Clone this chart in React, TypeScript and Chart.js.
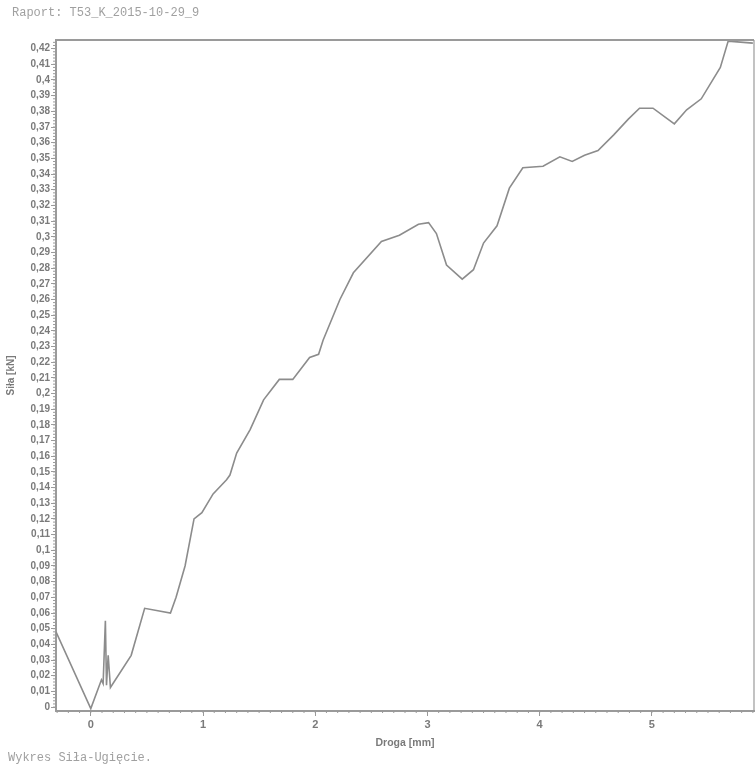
import React, { useEffect, useRef } from "react";
import { Chart, registerables } from "chart.js";

Chart.register(...registerables);

const REPORT_TITLE = "Raport: T53_K_2015-10-29_9";
const FOOTER_TEXT = "Wykres Siła-Ugięcie.";
const X_TITLE = "Droga [mm]";
const Y_TITLE = "Siła [kN]";

const DISPLACEMENT = [
  -0.31, 0.0, 0.095, 0.11, 0.13, 0.14, 0.155, 0.175, 0.36, 0.48, 0.71, 0.76, 0.84, 0.92, 0.99,
  1.09, 1.21, 1.24, 1.3, 1.42, 1.54, 1.68, 1.8, 1.95, 2.03, 2.07, 2.22, 2.34, 2.59, 2.75, 2.92,
  3.01, 3.08, 3.17, 3.31, 3.41, 3.5, 3.62, 3.73, 3.85, 4.03, 4.18, 4.29, 4.4, 4.52, 4.66, 4.79,
  4.89, 5.01, 5.2, 5.31, 5.44, 5.61, 5.68, 5.9,
];
const FORCE = [
  0.048, -0.001, 0.0174, 0.015, 0.055, 0.014, 0.033, 0.0125, 0.033, 0.063, 0.06, 0.07, 0.09, 0.12,
  0.124, 0.136, 0.145, 0.148, 0.162, 0.177, 0.196, 0.209, 0.209, 0.223, 0.225, 0.234, 0.26, 0.277,
  0.297, 0.301, 0.308, 0.309, 0.302, 0.282, 0.273, 0.279, 0.296, 0.307, 0.331, 0.344, 0.345, 0.351,
  0.348, 0.352, 0.355, 0.365, 0.375, 0.382, 0.382, 0.372, 0.381, 0.388, 0.408, 0.4248, 0.4235,
];

const X_TICKS = [0, 1, 2, 3, 4, 5];
const Y_TICKS = [
  0, 0.01, 0.02, 0.03, 0.04, 0.05, 0.06, 0.07, 0.08, 0.09, 0.1, 0.11, 0.12, 0.13, 0.14, 0.15, 0.16,
  0.17, 0.18, 0.19, 0.2, 0.21, 0.22, 0.23, 0.24, 0.25, 0.26, 0.27, 0.28, 0.29, 0.3, 0.31, 0.32,
  0.33, 0.34, 0.35, 0.36, 0.37, 0.38, 0.39, 0.4, 0.41, 0.42,
];

const GRAY = "#8c8c8c";
const AXIS_GRAY = "#9a9a9a";
const TEXT_GRAY = "#7a7a7a";

const frameAndMinorTicks = {
  id: "frameAndMinorTicks",
  afterDraw(chart: any) {
    const { ctx, chartArea } = chart;
    const xs = chart.scales.x;
    const ys = chart.scales.y;
    ctx.save();
    ctx.strokeStyle = AXIS_GRAY;
    ctx.lineWidth = 2;
    ctx.beginPath();
    ctx.moveTo(chartArea.left, chartArea.top);
    ctx.lineTo(chartArea.right, chartArea.top);
    ctx.stroke();
    ctx.lineWidth = 1.2;
    ctx.beginPath();
    ctx.moveTo(chartArea.right, chartArea.top);
    ctx.lineTo(chartArea.right, chartArea.bottom);
    ctx.stroke();
    ctx.lineWidth = 1;
    ctx.beginPath();
    for (let i = 0; i <= 212; i++) {
      const v = i * 0.002;
      const py = ys.getPixelForValue(v);
      if (py < chartArea.top) break;
      ctx.moveTo(chartArea.left - 3, py);
      ctx.lineTo(chartArea.left, py);
    }
    for (let i = -3; i <= 59; i++) {
      const v = i * 0.1;
      const px = xs.getPixelForValue(v);
      if (px < chartArea.left || px > chartArea.right) continue;
      ctx.moveTo(px, chartArea.bottom);
      ctx.lineTo(px, chartArea.bottom + 2);
    }
    ctx.stroke();
    ctx.restore();
  },
};

export default function App() {
  const ref = useRef<HTMLCanvasElement | null>(null);

  useEffect(() => {
    if (!ref.current) return;
    const points = DISPLACEMENT.map((x, i) => ({ x, y: FORCE[i] }));
    const chart = new Chart(ref.current, {
      type: "line",
      data: {
        datasets: [
          {
            data: points,
            borderColor: GRAY,
            borderWidth: 1.6,
            pointRadius: 0,
            tension: 0,
            fill: false,
          },
        ],
      },
      options: {
        responsive: false,
        animation: false,
        devicePixelRatio: 1,
        layout: { padding: { top: 40, right: 1, left: 5, bottom: 22 } },
        plugins: { legend: { display: false }, tooltip: { enabled: false }, title: { display: false } },
        scales: {
          x: {
            type: "linear",
            min: -0.31,
            max: 5.91,
            afterFit: (s: any) => {
              s.height = 38;
            },
            afterBuildTicks: (s: any) => {
              s.ticks = X_TICKS.map((v) => ({ value: v }));
            },
            ticks: {
              color: TEXT_GRAY,
              font: { family: "Liberation Sans", size: 11, weight: "bold" },
              padding: 2,
              maxRotation: 0,
              callback: (v: any) => String(v),
            },
            grid: {
              display: true,
              drawOnChartArea: false,
              drawTicks: true,
              tickLength: 5,
              color: AXIS_GRAY,
            },
            border: { display: true, color: AXIS_GRAY, width: 2 },
            title: {
              display: true,
              text: X_TITLE,
              color: TEXT_GRAY,
              font: { family: "Liberation Sans", size: 10.5, weight: "bold" },
              padding: { top: 0, bottom: 0 },
            },
          },
          y: {
            type: "linear",
            min: -0.0025,
            max: 0.4255,
            afterFit: (s: any) => {
              s.width = 51;
            },
            afterBuildTicks: (s: any) => {
              s.ticks = Y_TICKS.map((v) => ({ value: v }));
            },
            ticks: {
              color: TEXT_GRAY,
              font: { family: "Liberation Sans", size: 10, weight: "bold" },
              padding: 1,
              autoSkip: false,
              callback: (v: any) => String(Math.round(Number(v) * 100) / 100).replace(".", ","),
            },
            grid: {
              display: true,
              drawOnChartArea: false,
              drawTicks: true,
              tickLength: 5,
              color: AXIS_GRAY,
            },
            border: { display: true, color: AXIS_GRAY, width: 2 },
            title: {
              display: true,
              text: Y_TITLE,
              color: TEXT_GRAY,
              font: { family: "Liberation Sans", size: 10, weight: "bold" },
              padding: { top: 0, bottom: 0 },
            },
          },
        },
      },
      plugins: [frameAndMinorTicks],
    });
    return () => chart.destroy();
  }, []);

  return (
    <div style={{ position: "absolute", left: 0, top: 0, width: 755, height: 771, background: "#fff" }}>
      <canvas ref={ref} width={755} height={771} style={{ position: "absolute", left: 0, top: 0 }} />
      <div
        style={{
          position: "absolute",
          left: 12,
          top: 5,
          fontFamily: "'Liberation Mono', 'DejaVu Sans Mono', monospace",
          fontSize: 12,
          lineHeight: "16px",
          color: "#a0a0a0",
          whiteSpace: "pre",
        }}
      >
        {REPORT_TITLE}
      </div>
      <div
        style={{
          position: "absolute",
          left: 8,
          top: 750,
          fontFamily: "'Liberation Mono', 'DejaVu Sans Mono', monospace",
          fontSize: 12,
          lineHeight: "16px",
          color: "#a0a0a0",
          whiteSpace: "pre",
        }}
      >
        {FOOTER_TEXT}
      </div>
    </div>
  );
}
